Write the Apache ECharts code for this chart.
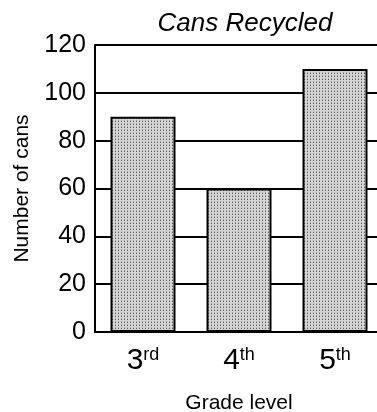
<!DOCTYPE html>
<html>
<head>
<meta charset="utf-8">
<script src="https://cdn.jsdelivr.net/npm/echarts@6/dist/echarts.min.js"></script>
<style>
  html, body { margin: 0; padding: 0; background: #fff; }
  #chart { width: 377px; height: 412px; }
</style>
</head>
<body>
<div id="chart"></div>
<script>
const grades = ['3', '4', '5'];
const suffixes = ['rd', 'th', 'th'];
const cans = [90, 60, 110];
const yTicks = [0, 20, 40, 60, 80, 100, 120];

// stippled fill like the printed worksheet
function makeStipple() {
  const c = document.createElement('canvas');
  c.width = 3;
  c.height = 3;
  const ctx = c.getContext('2d');
  ctx.fillStyle = '#d4d4d4';
  ctx.fillRect(0, 0, 3, 3);
  ctx.fillStyle = '#5e5e5e';
  ctx.fillRect(1, 1, 1, 1);
  ctx.fillStyle = '#a8a8a8';
  ctx.fillRect(1, 0, 1, 1);
  return c;
}

const chart = echarts.init(document.getElementById('chart'));
const font = '"Liberation Sans", Arial, sans-serif';

chart.setOption({
  animation: false,
  title: {
    text: 'Cans Recycled',
    left: 240,
    textAlign: 'center',
    top: 6,
    textStyle: {
      fontFamily: font,
      fontStyle: 'italic',
      fontWeight: 'normal',
      fontSize: 26,
      color: '#000',
    },
  },
  grid: {
    left: 95,
    width: 288,
    top: 45,
    bottom: 80,
    outerBoundsMode: 'none',
  },
  xAxis: {
    type: 'category',
    data: grades.map((g, i) => g + '|' + suffixes[i]),
    name: 'Grade level',
    nameLocation: 'middle',
    nameGap: 61,
    nameTextStyle: { fontFamily: font, fontSize: 21, color: '#000' },
    axisLine: { lineStyle: { color: '#000', width: 2 } },
    axisTick: { show: false },
    axisLabel: {
      margin: 14,
      formatter: (v) => {
        const p = v.split('|');
        return '{n|' + p[0] + '}{s|' + p[1] + '}';
      },
      rich: {
        n: { fontFamily: font, fontSize: 30, color: '#000', verticalAlign: 'bottom', lineHeight: 30 },
        s: { fontFamily: font, fontSize: 18, color: '#000', verticalAlign: 'top', lineHeight: 30, padding: [0, 0, 14, 0] },
      },
    },
  },
  yAxis: {
    type: 'value',
    min: yTicks[0],
    max: yTicks[yTicks.length - 1],
    interval: 20,
    name: 'Number of cans',
    nameLocation: 'middle',
    nameGap: 62,
    nameTextStyle: { fontFamily: font, fontSize: 21, color: '#000' },
    axisLine: { show: true, lineStyle: { color: '#000', width: 2 } },
    axisTick: { show: false },
    axisLabel: {
      margin: 9,
      fontFamily: font,
      fontSize: 25,
      color: '#000',
    },
    splitLine: { lineStyle: { color: '#000', width: 2 } },
  },
  series: [
    {
      type: 'bar',
      data: cans,
      barWidth: 65,
      itemStyle: {
        color: { image: makeStipple(), repeat: 'repeat' },
        borderColor: '#000',
        borderWidth: 2,
      },
    },
  ],
});
</script>
</body>
</html>
